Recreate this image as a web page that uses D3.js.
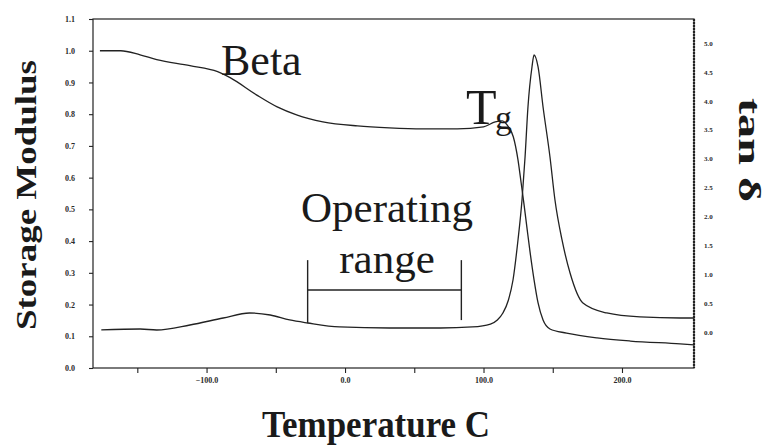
<!DOCTYPE html>
<html>
<head>
<meta charset="utf-8">
<script src="https://cdn.jsdelivr.net/npm/d3@7/dist/d3.min.js"></script>
<style>
  html, body { margin: 0; padding: 0; background: #fff; }
  svg { display: block; }
</style>
</head>
<body>
<svg id="chart" width="767" height="446"></svg>
<script>
// ---- data ----
const modulusTemp = [-177,-162,-148,-136,-112,-92,-83,-64,-49,-35,-16,9,32,56,81,100,108.5,113.5,118,121.5,124.9,127.1,129.3,131.4,133.6,136.5,139.4,143,148,160,182,206,242,252];
const modulusValue = [1.000,1.000,0.987,0.972,0.953,0.934,0.915,0.861,0.823,0.798,0.776,0.763,0.757,0.754,0.754,0.760,0.776,0.779,0.760,0.729,0.656,0.586,0.514,0.441,0.366,0.278,0.205,0.151,0.123,0.110,0.095,0.085,0.076,0.073];

const tanTemp = [-176,-148,-136,-112,-88,-69,-54,-40,-27,-4,32,69,92,105,110,114,118,121.3,124.9,127.8,130,132.1,135,136.5,139.4,143,148,151.6,156.7,162.5,171.8,189,213,242,252];
const tanValue = [0.035,0.052,0.035,0.121,0.242,0.329,0.294,0.208,0.156,0.087,0.069,0.069,0.087,0.138,0.208,0.329,0.554,0.900,1.592,2.284,3.028,3.893,4.585,4.792,4.585,3.893,3.028,2.284,1.592,1.021,0.502,0.329,0.260,0.242,0.242];

const leftTicks = [0,0.1,0.2,0.3,0.4,0.5,0.6,0.7,0.8,0.9,1.0,1.1];
const rightTicks = [0,0.5,1,1.5,2,2.5,3,3.5,4,4.5,5];
const xTicks = [-150,-100,-50,0,50,100,150,200];
const xLabelled = [-100,0,100,200];
const operatingRange = [-27, 84];

// ---- layout ----
const svg = d3.select("#chart");
const L = 93, R = 694, T = 19, B = 368;
const x = d3.scaleLinear().domain([-182, 252]).range([L, R]);
const yL = d3.scaleLinear().domain([0, 1.1]).range([B, T]);
const yR = d3.scaleLinear().domain([0, 5]).range([332, 43]);
const ink = "#222";
const serif = '"Liberation Serif", "Times New Roman", serif';

// frame
svg.append("rect").attr("x", L).attr("y", T).attr("width", R - L).attr("height", B - T)
  .attr("fill", "none").attr("stroke", ink).attr("stroke-width", 1.2);
svg.append("line").attr("x1", R).attr("x2", R).attr("y1", T).attr("y2", B)
  .attr("stroke", ink).attr("stroke-width", 2.2).attr("stroke-dasharray", "2,1");

// axes
const gl = svg.append("g").attr("transform", `translate(${L},0)`)
  .call(d3.axisLeft(yL).tickValues(leftTicks).tickSize(4).tickPadding(14).tickFormat(d3.format(".1f")));
const gb = svg.append("g").attr("transform", `translate(0,${B})`)
  .call(d3.axisBottom(x).tickValues(xTicks).tickSize(5).tickPadding(4)
    .tickFormat(d => xLabelled.includes(d) ? d3.format(".1f")(d) : ""));
const gr = svg.append("g").attr("transform", `translate(${R},0)`)
  .call(d3.axisRight(yR).tickValues(rightTicks).tickSize(0).tickPadding(10).tickFormat(d3.format(".1f")));
[gl, gb, gr].forEach(g => {
  g.select(".domain").remove();
  g.selectAll(".tick line").attr("stroke", ink).attr("stroke-width", 1.1);
  g.selectAll(".tick text").attr("fill", "#2a2a2a").attr("font-family", serif)
    .attr("font-weight", "bold").attr("font-size", 8);
});
gr.selectAll(".tick text").attr("font-size", 7);

// curves
const line = d3.line().curve(d3.curveMonotoneX);
svg.append("path")
  .attr("d", line(modulusTemp.map((t, i) => [x(t), yL(modulusValue[i])])))
  .attr("fill", "none").attr("stroke", ink).attr("stroke-width", 1.3);
svg.append("path")
  .attr("d", line(tanTemp.map((t, i) => [x(t), yR(tanValue[i])])))
  .attr("fill", "none").attr("stroke", ink).attr("stroke-width", 1.3);

// operating range bracket
const bx0 = x(operatingRange[0]), bx1 = x(operatingRange[1]);
svg.append("line").attr("x1", bx0).attr("x2", bx0).attr("y1", yL(0.34)).attr("y2", yL(0.142))
  .attr("stroke", ink).attr("stroke-width", 1.4);
svg.append("line").attr("x1", bx1).attr("x2", bx1).attr("y1", yL(0.34)).attr("y2", yL(0.151))
  .attr("stroke", ink).attr("stroke-width", 1.4);
svg.append("line").attr("x1", bx0).attr("x2", bx1).attr("y1", yL(0.246)).attr("y2", yL(0.246))
  .attr("stroke", ink).attr("stroke-width", 1.4);

// annotations
function txt(s, px, py, size, opts = {}) {
  const t = svg.append("text").attr("x", px).attr("y", py).text(s)
    .attr("font-family", serif).attr("font-size", size).attr("fill", "#1a1a1a")
    .attr("text-anchor", opts.anchor || "start");
  if (opts.bold) t.attr("font-weight", "bold");
  if (opts.len) t.attr("textLength", opts.len).attr("lengthAdjust", "spacingAndGlyphs");
  if (opts.rot) t.attr("transform", `rotate(${opts.rot},${px},${py})`);
  return t;
}
txt("Beta", 221, 75, 44);
txt("T", 466, 124, 50);
txt("g", 495, 129, 34);
txt("Operating", 387, 222, 43, { anchor: "middle" });
txt("range", 387, 273, 43, { anchor: "middle" });

// axis titles
txt("Storage Modulus", 36, 195, 30, { anchor: "middle", bold: true, len: 270, rot: -90 });
txt("tan δ", 739, 150, 31, { anchor: "middle", bold: true, len: 104, rot: 90 });
txt("Temperature C", 376, 437, 37, { anchor: "middle", bold: true, len: 228 });
</script>
</body>
</html>
